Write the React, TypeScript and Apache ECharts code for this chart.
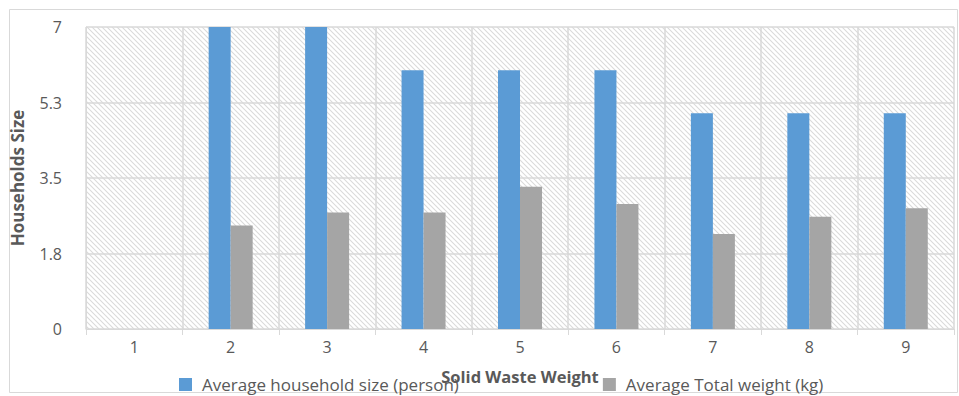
import React, { useEffect, useRef } from "react";
import * as echarts from "echarts";

const categories = ["1", "2", "3", "4", "5", "6", "7", "8", "9"];
const householdSize = [0, 7, 7, 6, 6, 6, 5, 5, 5];
const totalWeight = [0, 2.4, 2.7, 2.7, 3.3, 2.9, 2.2, 2.6, 2.8];
const seriesNames = ["Average household size (person)", "Average Total weight (kg)"];
const xAxisTitle = "Solid Waste Weight";
const yAxisTitle = "Households Size";

const FONT = "'Open Sans', Lato, sans-serif";
const TEXT = "#595959";
const GRID = "#d9d9d9";

const hatchSvg =
  "<svg xmlns='http://www.w3.org/2000/svg' width='5' height='5'>" +
  "<path d='M-1,-1 L6,6 M-1,4 L1,6 M4,-1 L6,1' stroke='#dadada' stroke-width='1.1' fill='none'/></svg>";
const hatchUrl = "data:image/svg+xml;charset=utf-8," + encodeURIComponent(hatchSvg);

export default function App() {
  const ref = useRef<HTMLDivElement>(null);
  useEffect(() => {
    if (!ref.current) return;
    const chart = echarts.init(ref.current, null, { renderer: "svg" });
    chart.setOption({
      animation: false,
      backgroundColor: "#ffffff",
      textStyle: { fontFamily: FONT },
      graphic: [
        {
          type: "rect",
          shape: { x: 9.5, y: 9.5, width: 948, height: 383 },
          style: { fill: "none", stroke: GRID, lineWidth: 1 },
          silent: true,
          z: -1,
        },
      ],
      grid: {
        left: 86,
        right: 5,
        top: 27,
        bottom: 67,
        show: true,
        borderWidth: 0,
        backgroundColor: {
          image: hatchUrl,
          repeat: "repeat",
          imageWidth: 5,
          imageHeight: 5,
        } as any,
      },
      legend: {
        data: seriesNames,
        left: 179,
        top: 376,
        padding: 0,
        itemWidth: 13,
        itemHeight: 13,
        itemGap: 144,
        icon: "rect",
        textStyle: {
          color: TEXT,
          fontSize: 17,
          lineHeight: 17,
          fontFamily: FONT,
          padding: [0, 0, 0, 5],
        },
      },
      xAxis: {
        type: "category",
        data: categories,
        name: xAxisTitle,
        nameLocation: "middle",
        nameGap: 39,
        nameTextStyle: { color: TEXT, fontSize: 16.5, fontWeight: "bold", fontFamily: FONT },
        axisLine: { show: true, lineStyle: { color: GRID, width: 1 } },
        axisTick: { show: true, length: 6, lineStyle: { color: GRID } },
        axisLabel: { color: TEXT, fontSize: 16, margin: 10, fontFamily: FONT },
        splitLine: { show: true, lineStyle: { color: GRID, width: 1.5 } },
      },
      yAxis: {
        type: "value",
        min: 0,
        max: 7,
        interval: 1.75,
        name: yAxisTitle,
        nameLocation: "middle",
        nameGap: 60,
        nameTextStyle: { color: TEXT, fontSize: 17, fontWeight: "bold", fontFamily: FONT },
        axisLine: { show: true, lineStyle: { color: GRID } },
        axisTick: { show: false },
        axisLabel: {
          color: TEXT,
          fontSize: 16,
          margin: 24,
          fontFamily: FONT,
          formatter: (v: number) => String(Math.round(v * 10) / 10),
        },
        splitLine: { show: true, lineStyle: { color: GRID, width: 1.5 } },
      },
      series: [
        {
          name: seriesNames[0],
          type: "bar",
          data: householdSize,
          barWidth: 22,
          barGap: "0%",
          itemStyle: { color: "#5B9BD5" },
        },
        {
          name: seriesNames[1],
          type: "bar",
          data: totalWeight,
          barWidth: 22,
          barGap: "0%",
          itemStyle: { color: "#A5A5A5" },
        },
      ],
    });
    return () => chart.dispose();
  }, []);
  return (
    <div
      ref={ref}
      style={{ position: "absolute", left: 0, top: 0, width: 959, height: 396 }}
    />
  );
}
